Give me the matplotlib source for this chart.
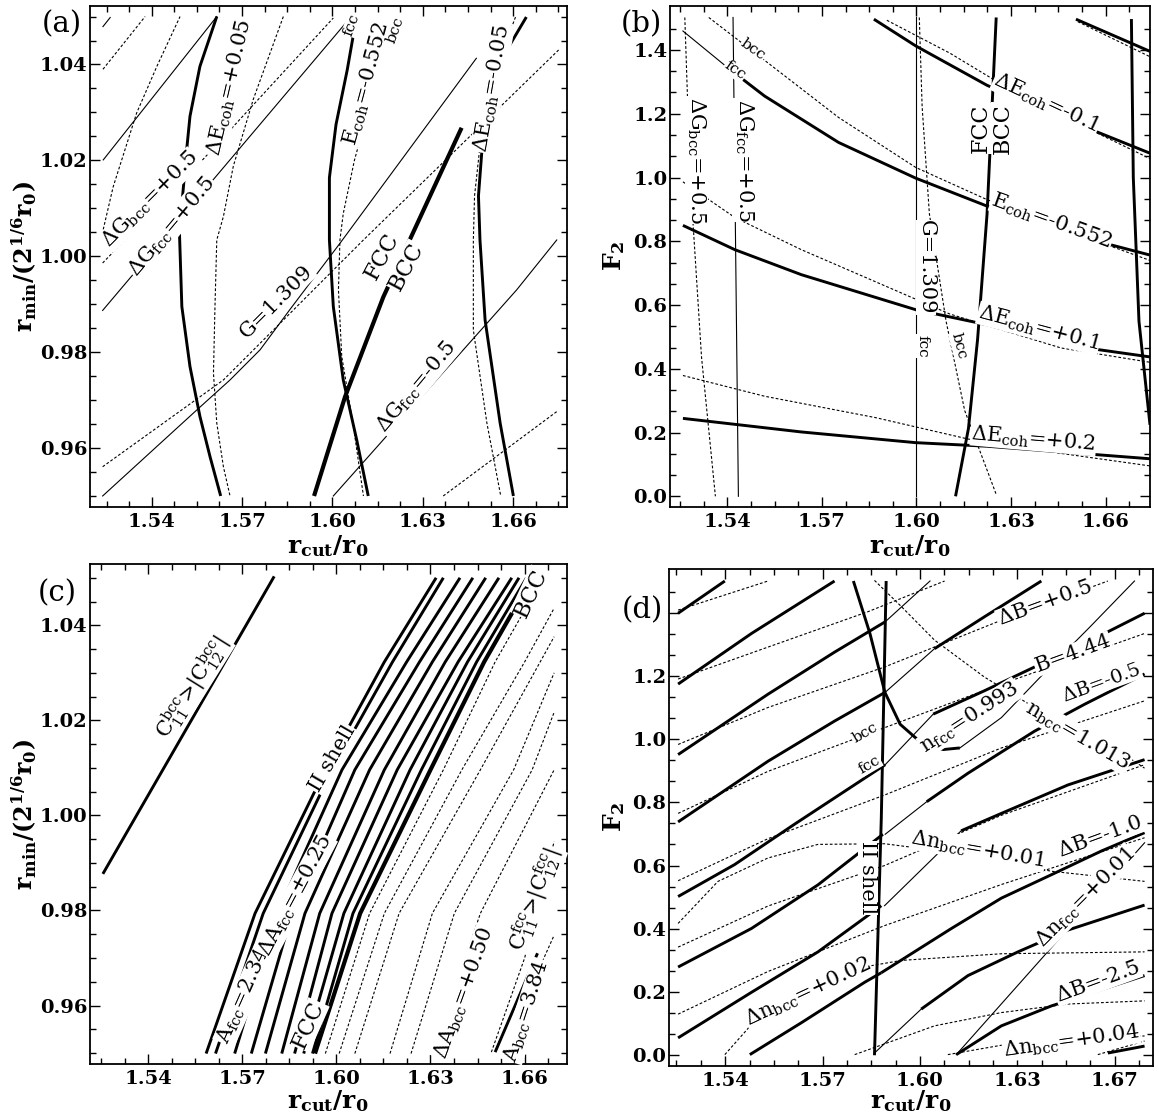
import numpy as np
import matplotlib
matplotlib.use("Agg")
import matplotlib.pyplot as plt
from matplotlib.ticker import FixedLocator

plt.rcParams['font.family'] = ['DejaVu Serif']
plt.rcParams['mathtext.fontset'] = 'dejavuserif'

# ---------------- panel (a): r_min vs r_cut ----------------
a_dE005_fcc_x = [1.5616, 1.5560, 1.5527, 1.5516, 1.5492, 1.5500, 1.5527, 1.5560, 1.5594, 1.5629]
a_dE005_fcc_y = [1.0500, 1.0396, 1.0292, 1.0222, 1.0050, 0.9895, 0.9770, 0.9666, 0.9581, 0.9500]
a_dE005_bcc_x = [1.5837, 1.5737, 1.5671, 1.5638, 1.5616, 1.5610, 1.5605, 1.5616, 1.5638, 1.5660]
a_dE005_bcc_y = [1.0500, 1.0327, 1.0188, 1.0083, 1.0034, 0.9895, 0.9756, 0.9652, 0.9561, 0.9500]
a_Ecoh_fcc_x = [1.6080, 1.6049, 1.6012, 1.5990, 1.5990, 1.6003, 1.6036, 1.6081, 1.6119]
a_Ecoh_fcc_y = [1.0499, 1.0388, 1.0275, 1.0164, 1.0034, 0.9895, 0.9742, 0.9616, 0.9500]
a_Ecoh_bcc_x = [1.6215, 1.6171, 1.6122, 1.6073, 1.6036, 1.6025, 1.6020, 1.6031, 1.6070, 1.6103]
a_Ecoh_bcc_y = [1.0499, 1.0439, 1.0312, 1.0200, 1.0089, 1.0034, 0.9930, 0.9791, 0.9644, 0.9500]
a_phase_x = [1.5939, 1.6042, 1.6169, 1.6429]
a_phase_y = [0.9500, 0.9707, 0.9915, 1.0268]
a_dEm005_fcc_x = [1.6644, 1.6546, 1.6503, 1.6485, 1.6490, 1.6507, 1.6557, 1.6601]
a_dEm005_fcc_y = [1.0499, 1.0395, 1.0275, 1.0126, 1.0034, 0.9867, 0.9652, 0.9500]
a_dEm005_bcc_x = [1.6608, 1.6546, 1.6495, 1.6472, 1.6468, 1.6468, 1.6513, 1.6559]
a_dEm005_bcc_y = [1.0499, 1.0395, 1.0259, 1.0126, 1.0034, 0.9846, 0.9652, 0.9500]
a_G1_fcc_x = [1.5238, 1.5262]
a_G1_fcc_y = [1.0479, 1.0498]
a_G1_bcc_x = [1.5238, 1.5378]
a_G1_bcc_y = [1.0390, 1.0500]
a_G2_bcc_x = [1.5239, 1.5272, 1.5350, 1.5417, 1.5494]
a_G2_bcc_y = [1.0056, 1.0145, 1.0299, 1.0396, 1.0500]
a_dGbcc_x = [1.5237, 1.5560, 1.6003]
a_dGbcc_y = [0.9986, 1.0195, 1.0497]
a_G2_fcc_x = [1.5239, 1.5616]
a_G2_fcc_y = [1.0201, 1.0500]
a_dGfcc_x = [1.5237, 1.6061]
a_dGfcc_y = [0.9887, 1.0499]
a_G_fcc_x = [1.5237, 1.5549, 1.5660, 1.5760, 1.5859, 1.6025, 1.6478]
a_G_fcc_y = [0.9500, 0.9679, 0.9742, 0.9805, 0.9889, 1.0027, 1.0413]
a_G_bcc_x = [1.5237, 1.5638, 1.6103, 1.6754]
a_G_bcc_y = [0.9561, 0.9742, 1.0034, 1.0432]
a_dGfcc_m_x = [1.6003, 1.6612, 1.6745]
a_dGfcc_m_y = [0.9500, 0.9930, 1.0034]
a_dGbcc_m_x = [1.6368, 1.6745]
a_dGbcc_m_y = [0.9500, 0.9676]

# ---------------- panel (b): F2 vs r_cut ----------------
b_G_fcc_x = [1.5998, 1.5998]
b_G_fcc_y = [1.502, 0.0]
b_dGfcc_x = [1.5418, 1.5435]
b_dGfcc_y = [1.502, 0.0]
b_dGbcc_x = [1.5265, 1.5282, 1.5318, 1.5362]
b_dGbcc_y = [1.502, 0.998, 0.437, 0.0]
b_G_bcc_x = [1.6009, 1.6018, 1.6041, 1.6094, 1.6153, 1.6253]
b_G_bcc_y = [1.502, 1.222, 0.886, 0.549, 0.269, 0.006]
b_phase_x = [1.6253, 1.6224, 1.6194, 1.6165, 1.6124]
b_phase_y = [1.502, 0.886, 0.493, 0.213, 0.0]
b_right_x = [1.6682, 1.6688, 1.6706, 1.6741]
b_right_y = [1.497, 1.0, 0.549, 0.224]
b_Ecoh_tip_x = [1.5259, 1.5400]
b_Ecoh_tip_y = [1.4596, 1.3453]
b_Ecoh_fcc_x = [1.5400, 1.5518, 1.5753, 1.5998, 1.6224, 1.6459, 1.6741]
b_Ecoh_fcc_y = [1.3453, 1.2556, 1.1099, 0.9978, 0.9103, 0.8296, 0.7567]
b_Ecoh_bcc_x = [1.5341, 1.5518, 1.5753, 1.5998, 1.6224, 1.6459, 1.6741]
b_Ecoh_bcc_y = [1.502, 1.3677, 1.1883, 1.0314, 0.9305, 0.8408, 0.7399]
b_dEm01_fcc_x = [1.5865, 1.5998, 1.6224, 1.6459, 1.6741]
b_dEm01_fcc_y = [1.4966, 1.4126, 1.2892, 1.1883, 1.0762]
b_dEm01_bcc_x = [1.5906, 1.6106, 1.6341, 1.6741]
b_dEm01_bcc_y = [1.4933, 1.3901, 1.2500, 1.0594]
b_dEm02_fcc_x = [1.6506, 1.6741]
b_dEm02_fcc_y = [1.4966, 1.3957]
b_dEm02_bcc_x = [1.6512, 1.6741]
b_dEm02_bcc_y = [1.4888, 1.3789]
b_dE01_fcc_x = [1.5259, 1.5424, 1.5635, 1.5998, 1.6224, 1.6459, 1.6741]
b_dE01_fcc_y = [0.8498, 0.7735, 0.6951, 0.5852, 0.5381, 0.4765, 0.4372]
b_dE01_bcc_x = [1.5259, 1.5424, 1.5635, 1.5871, 1.6106, 1.6459, 1.6741]
b_dE01_bcc_y = [0.9865, 0.8744, 0.7735, 0.6726, 0.5717, 0.4652, 0.4204]
b_dE02_fcc_x = [1.5259, 1.5635, 1.5998, 1.6224, 1.6741]
b_dE02_fcc_y = [0.2444, 0.2018, 0.1682, 0.1570, 0.1177]
b_dE02_bcc_x = [1.5259, 1.5518, 1.5871, 1.6165, 1.6459, 1.6741]
b_dE02_bcc_y = [0.3789, 0.3139, 0.2466, 0.1794, 0.1345, 0.0953]

# ---------------- panel (c): r_min vs r_cut, elastic constants ----------------
c_C11bcc_x = [1.5256, 1.5802]
c_C11bcc_y = [0.9877, 1.0503]
c_levels_y = [0.9499, 0.9794, 1.0096, 1.0323, 1.0500]
c_A1_x = [1.5585, 1.5741, 1.5965, 1.6153, 1.6318]
c_A2_x = [1.5615, 1.5767, 1.5986, 1.6179, 1.6341]
c_A3_x = [1.5676, 1.5812, 1.6018, 1.6224, 1.6394]
c_A4_x = [1.5729, 1.5859, 1.6059, 1.6265, 1.6435]
c_A5_x = [1.5774, 1.5900, 1.6106, 1.6306, 1.6476]
c_A6_x = [1.5826, 1.5947, 1.6153, 1.6347, 1.6518]
c_A7_x = [1.5867, 1.5986, 1.6194, 1.6388, 1.6559]
c_A8_x = [1.5896, 1.6024, 1.6235, 1.6418, 1.6582]
c_A9_x = [1.5924, 1.6053, 1.6271, 1.6447, 1.6606]
c_phase_x = [1.5932, 1.6076, 1.6300, 1.6471, 1.6624]
c_B1_x = [1.5965, 1.6106, 1.6341, 1.6506, 1.6659]
c_B1_y = [0.9499, 0.9794, 1.0096, 1.0323, 1.0500]
c_B2_x = [1.6009, 1.6153, 1.6400, 1.6600, 1.6694]
c_B2_y = [0.9499, 0.9794, 1.0096, 1.0323, 1.0436]
c_B3_x = [1.6059, 1.6200, 1.6459, 1.6694]
c_B3_y = [0.9499, 0.9794, 1.0096, 1.0376]
c_B4_x = [1.6171, 1.6306, 1.6565, 1.6694]
c_B4_y = [0.9499, 0.9794, 1.0096, 1.0300]
c_B5_x = [1.6238, 1.6376, 1.6624, 1.6694]
c_B5_y = [0.9499, 0.9794, 1.0096, 1.0217]
c_B6_x = [1.6308, 1.6459, 1.6694]
c_B6_y = [0.9499, 0.9794, 1.0096]
c_B7_x = [1.6494, 1.6600, 1.6694]
c_B7_y = [0.9502, 0.9700, 0.9945]
c_B8_x = [1.6576, 1.6694]
c_B8_y = [0.9574, 0.9748]
c_C11fcc_x = [1.6506, 1.6641]
c_C11fcc_y = [0.9502, 0.9710]

# ---------------- panel (d): F2 vs r_cut, bulk modulus / density ----------------
d_shell_x = [1.5946, 1.5931, 1.5910]
d_shell_y = [1.500, 0.750, 0.000]
d_B1_x = [1.5305, 1.5449]
d_B1_y = [1.398, 1.500]
d_B2_x = [1.5305, 1.5531, 1.5787]
d_B2_y = [1.174, 1.334, 1.500]
d_B3_x = [1.5305, 1.5582, 1.5787, 1.5943]
d_B3_y = [0.951, 1.142, 1.275, 1.371]
d_B4_x = [1.5305, 1.5582, 1.5787, 1.5943]
d_B4_y = [0.738, 0.930, 1.057, 1.148]
d_B5_x = [1.5305, 1.5479, 1.5664, 1.5943]
d_B5_y = [0.502, 0.603, 0.731, 0.919]
d_B6_x = [1.5305, 1.5531, 1.5736, 1.5936]
d_B6_y = [0.279, 0.401, 0.539, 0.699]
d_B7_x = [1.5305, 1.5531, 1.5736, 1.5931]
d_B7_y = [0.055, 0.199, 0.327, 0.473]
d_B8_x = [1.5526, 1.5685, 1.5880, 1.5931]
d_B8_y = [0.002, 0.103, 0.231, 0.261]
d_link3_x = [1.5943, 1.6081]
d_link3_y = [1.371, 1.500]
d_link4_x = [1.5943, 1.6095]
d_link4_y = [1.148, 1.286]
d_link5_x = [1.5943, 1.6091]
d_link5_y = [0.919, 1.079]
d_link6_x = [1.5943, 1.6071]
d_link6_y = [0.699, 0.802]
d_link7_x = [1.5941, 1.6177]
d_link7_y = [0.473, 0.710]
d_link9_x = [1.5910, 1.6054]
d_link9_y = [0.007, 0.146]
d_R1_x = [1.6095, 1.6249, 1.6424]
d_R1_y = [1.286, 1.387, 1.500]
d_R2_x = [1.6091, 1.6249, 1.6403, 1.6578, 1.6742]
d_R2_y = [1.079, 1.153, 1.228, 1.313, 1.398]
d_R3_x = [1.6071, 1.6198, 1.6403, 1.6557, 1.6742]
d_R3_y = [0.802, 0.892, 1.025, 1.110, 1.206]
d_R4_x = [1.6177, 1.6301, 1.6506, 1.6742]
d_R4_y = [0.710, 0.765, 0.855, 0.935]
d_R5_x = [1.5931, 1.6147, 1.6301, 1.6455, 1.6609, 1.6742]
d_R5_y = [0.261, 0.401, 0.497, 0.571, 0.646, 0.704]
d_R6_x = [1.6054, 1.6198, 1.6352, 1.6506, 1.6742]
d_R6_y = [0.146, 0.252, 0.327, 0.396, 0.475]
d_R7_x = [1.6162, 1.6301, 1.6455, 1.6742]
d_R7_y = [0.002, 0.093, 0.156, 0.252]
d_R8_x = [1.6629, 1.6742]
d_R8_y = [0.007, 0.029]
d_loop_thick_x = [1.5845, 1.5896, 1.5942, 1.5989, 1.6060, 1.6122, 1.6173]
d_loop_thick_y = [1.500, 1.334, 1.148, 1.047, 0.983, 0.967, 0.972]
d_loop_thin_x = [1.6173, 1.6301, 1.6430, 1.6574, 1.6711]
d_loop_thin_y = [0.972, 1.068, 1.206, 1.355, 1.500]
d_nfcc_x = [1.6162, 1.6742]
d_nfcc_y = [0.002, 0.672]
d_nbcc_x = [1.5910, 1.5993, 1.6095, 1.6249, 1.6403, 1.6557, 1.6742]
d_nbcc_y = [1.502, 1.419, 1.313, 1.196, 1.100, 1.036, 0.908]
d_D1_x = [1.5305, 1.5582]
d_D1_y = [1.408, 1.500]
d_D2_x = [1.5305, 1.5582, 1.5890, 1.6126]
d_D2_y = [1.190, 1.291, 1.403, 1.500]
d_D3_x = [1.5305, 1.5582, 1.5941, 1.6301, 1.6629]
d_D3_y = [0.983, 1.100, 1.228, 1.376, 1.500]
d_D4_x = [1.5305, 1.5582, 1.5941, 1.6301, 1.6742]
d_D4_y = [0.765, 0.898, 1.036, 1.174, 1.334]
d_D5_x = [1.5305, 1.5582, 1.5941, 1.6301, 1.6742]
d_D5_y = [0.552, 0.685, 0.823, 0.972, 1.121]
d_D6_x = [1.5305, 1.5582, 1.5941, 1.6301, 1.6742]
d_D6_y = [0.342, 0.472, 0.600, 0.759, 0.919]
d_D7_x = [1.5305, 1.5582, 1.5941, 1.6301, 1.6742]
d_D7_y = [0.130, 0.265, 0.410, 0.540, 0.688]
d_D8_x = [1.6136, 1.6403, 1.6742]
d_D8_y = [0.002, 0.050, 0.061]
d_dn1_x = [1.5305, 1.5428, 1.5582, 1.5736, 1.5941, 1.6198, 1.6455, 1.6742]
d_dn1_y = [0.417, 0.550, 0.624, 0.667, 0.669, 0.635, 0.582, 0.550]
d_dn2_x = [1.5449, 1.5582, 1.5787, 1.5993, 1.6301, 1.6742]
d_dn2_y = [0.002, 0.156, 0.263, 0.300, 0.321, 0.327]
d_dn4_x = [1.5849, 1.6095, 1.6301, 1.6506, 1.6742]
d_dn4_y = [0.002, 0.093, 0.135, 0.162, 0.172]
d_dn5_x = [1.6598, 1.6742]
d_dn5_y = [0.002, 0.045]

W, H = 1159, 1114
fig = plt.figure(figsize=(W / 100, H / 100), dpi=100)


def box(l, t, r, b):
    return [l / W, 1 - b / H, (r - l) / W, (b - t) / H]


ax_a = fig.add_axes(box(90, 6, 567, 507))
ax_b = fig.add_axes(box(670, 6, 1150, 507))
ax_c = fig.add_axes(box(90, 564, 567, 1064))
ax_d = fig.add_axes(box(669, 569, 1153, 1066))

STY = {
    'thick': dict(color='black', lw=2.1, ls='-', solid_capstyle='butt'),
    'heavy': dict(color='black', lw=3.0, ls='-', solid_capstyle='butt'),
    'thin': dict(color='black', lw=0.8, ls='-'),
    'dash': dict(color='black', lw=0.8, ls=(0, (2.5, 1.8))),
}


def draw(ax, xs, ys, kind):
    ax.plot(xs, ys, **STY[kind])


def lab(ax, x, y, s, rot, size=15):
    ax.text(x, y, s, rotation=rot, rotation_mode='anchor', ha='center', va='center',
            fontsize=size, bbox=dict(fc='white', ec='none', pad=0.4), zorder=5)


def frame(ax, xlim, ylim, xt, xtl, yt, ytl, xminor, yminor):
    ax.set_xlim(xlim)
    ax.set_ylim(ylim)
    ax.set_xticks(xt)
    ax.set_xticklabels(xtl, fontweight='bold', fontsize=14)
    ax.set_yticks(yt)
    ax.set_yticklabels(ytl, fontweight='bold', fontsize=14)
    ax.xaxis.set_minor_locator(FixedLocator(xminor))
    ax.yaxis.set_minor_locator(FixedLocator(yminor))
    ax.tick_params(which='both', direction='in', top=True, right=True, width=1)
    ax.tick_params(which='major', length=7, pad=4)
    ax.tick_params(axis='y', which='major', pad=2)
    ax.tick_params(which='minor', length=4)
    for s in ax.spines.values():
        s.set_linewidth(1.3)


xt_a = [1.54, 1.57, 1.60, 1.63, 1.66]
xtl_a = ['1.54', '1.57', '1.60', '1.63', '1.66']
yt_a = [0.96, 0.98, 1.00, 1.02, 1.04]
ytl_a = ['0.96', '0.98', '1.00', '1.02', '1.04']
yt_b = [0.0, 0.2, 0.4, 0.6, 0.8, 1.0, 1.2, 1.4]
ytl_b = ['0.0', '0.2', '0.4', '0.6', '0.8', '1.0', '1.2', '1.4']
ytl_d = ['0.0', '0.2', '0.4', '0.6', '0.8', '1.0', '1.2', '']
xt_d = [1.545, 1.575, 1.605, 1.635, 1.665]
xtl_d = ['1.54', '1.57', '1.60', '1.63', '1.67']
xminor = np.arange(1.525, 1.676, 0.0075)
xminor_d = np.arange(1.530, 1.676, 0.0075)
yminor_a = np.arange(0.95, 1.051, 0.005)
yminor_b = np.arange(0.0, 1.51, 0.2 / 3)

frame(ax_a, (1.5195, 1.6779), (0.9477, 1.0522), xt_a, xtl_a, yt_a, ytl_a, xminor, yminor_a)
frame(ax_b, (1.5218, 1.6741), (-0.0336, 1.538), xt_a, xtl_a, yt_b, ytl_b, xminor, yminor_b)
frame(ax_c, (1.5215, 1.6735), (0.9477, 1.0529), xt_a, xtl_a, yt_a, ytl_a, xminor, yminor_a)
frame(ax_d, (1.5277, 1.6768), (-0.034, 1.538), xt_d, xtl_d, yt_b, ytl_d, xminor_d, yminor_b)

# ---- (a)
draw(ax_a, a_dE005_fcc_x, a_dE005_fcc_y, 'thick')
draw(ax_a, a_dE005_bcc_x, a_dE005_bcc_y, 'dash')
draw(ax_a, a_Ecoh_fcc_x, a_Ecoh_fcc_y, 'thick')
draw(ax_a, a_Ecoh_bcc_x, a_Ecoh_bcc_y, 'dash')
draw(ax_a, a_phase_x, a_phase_y, 'heavy')
draw(ax_a, a_dEm005_fcc_x, a_dEm005_fcc_y, 'thick')
draw(ax_a, a_dEm005_bcc_x, a_dEm005_bcc_y, 'dash')
draw(ax_a, a_G1_fcc_x, a_G1_fcc_y, 'thin')
draw(ax_a, a_G1_bcc_x, a_G1_bcc_y, 'dash')
draw(ax_a, a_G2_bcc_x, a_G2_bcc_y, 'dash')
draw(ax_a, a_dGbcc_x, a_dGbcc_y, 'dash')
draw(ax_a, a_G2_fcc_x, a_G2_fcc_y, 'thin')
draw(ax_a, a_dGfcc_x, a_dGfcc_y, 'thin')
draw(ax_a, a_G_fcc_x, a_G_fcc_y, 'thin')
draw(ax_a, a_G_bcc_x, a_G_bcc_y, 'dash')
draw(ax_a, a_dGfcc_m_x, a_dGfcc_m_y, 'thin')
draw(ax_a, a_dGbcc_m_x, a_dGbcc_m_y, 'dash')

lab(ax_a, 1.5658, 1.0352, r'$\Delta\mathrm{E}_{\mathrm{coh}}$=+0.05', 77)
lab(ax_a, 1.5395, 1.0118, r'$\Delta\mathrm{G}_{\mathrm{bcc}}$=+0.5', 45)
lab(ax_a, 1.5466, 1.0062, r'$\Delta\mathrm{G}_{\mathrm{fcc}}$=+0.5', 50)
lab(ax_a, 1.5815, 0.9905, 'G=1.309', 45)
lab(ax_a, 1.6165, 1.0000, 'FCC', 62, 16)
lab(ax_a, 1.6245, 0.9978, 'BCC', 62, 16)
lab(ax_a, 1.6112, 1.0360, r'$\mathrm{E}_{\mathrm{coh}}$=-0.552', 75)
lab(ax_a, 1.6065, 1.0483, 'fcc', 70, 11)
lab(ax_a, 1.6208, 1.0472, 'bcc', 70, 11)
lab(ax_a, 1.6530, 1.0350, r'$\Delta\mathrm{E}_{\mathrm{coh}}$=-0.05', 80)
lab(ax_a, 1.6278, 0.9728, r'$\Delta\mathrm{G}_{\mathrm{fcc}}$=-0.5', 50)

# ---- (b)
draw(ax_b, b_G_fcc_x, b_G_fcc_y, 'thin')
draw(ax_b, b_dGfcc_x, b_dGfcc_y, 'thin')
draw(ax_b, b_dGbcc_x, b_dGbcc_y, 'dash')
draw(ax_b, b_G_bcc_x, b_G_bcc_y, 'dash')
draw(ax_b, b_phase_x, b_phase_y, 'thick')
draw(ax_b, b_right_x, b_right_y, 'thick')
draw(ax_b, b_Ecoh_tip_x, b_Ecoh_tip_y, 'thin')
draw(ax_b, b_Ecoh_fcc_x, b_Ecoh_fcc_y, 'thick')
draw(ax_b, b_Ecoh_bcc_x, b_Ecoh_bcc_y, 'dash')
draw(ax_b, b_dEm01_fcc_x, b_dEm01_fcc_y, 'thick')
draw(ax_b, b_dEm01_bcc_x, b_dEm01_bcc_y, 'dash')
draw(ax_b, b_dEm02_fcc_x, b_dEm02_fcc_y, 'thick')
draw(ax_b, b_dEm02_bcc_x, b_dEm02_bcc_y, 'dash')
draw(ax_b, b_dE01_fcc_x, b_dE01_fcc_y, 'thick')
draw(ax_b, b_dE01_bcc_x, b_dE01_bcc_y, 'dash')
draw(ax_b, b_dE02_fcc_x, b_dE02_fcc_y, 'thick')
draw(ax_b, b_dE02_bcc_x, b_dE02_bcc_y, 'dash')

lab(ax_b, 1.5302, 1.0538, r'$\Delta\mathrm{G}_{\mathrm{bcc}}$=+0.5', -90)
lab(ax_b, 1.5452, 1.0538, r'$\Delta\mathrm{G}_{\mathrm{fcc}}$=+0.5', -90)
lab(ax_b, 1.5424, 1.3353, 'fcc', -35, 11)
lab(ax_b, 1.5482, 1.4013, 'bcc', -35, 11)
lab(ax_b, 1.6031, 0.7175, 'G=1.309', -90)
lab(ax_b, 1.6020, 0.4709, 'fcc', -90, 11)
lab(ax_b, 1.6135, 0.4709, 'bcc', -75, 11)
lab(ax_b, 1.6204, 1.1547, 'FCC', 90, 16)
lab(ax_b, 1.6273, 1.1547, 'BCC', 90, 16)
lab(ax_b, 1.6412, 1.2332, r'$\Delta\mathrm{E}_{\mathrm{coh}}$=-0.1', -25)
lab(ax_b, 1.6429, 0.8632, r'$\mathrm{E}_{\mathrm{coh}}$=-0.552', -20)
lab(ax_b, 1.6388, 0.5269, r'$\Delta\mathrm{E}_{\mathrm{coh}}$=+0.1', -15)
lab(ax_b, 1.6371, 0.1794, r'$\Delta\mathrm{E}_{\mathrm{coh}}$=+0.2', -5)

# ---- (c)
draw(ax_c, c_C11bcc_x, c_C11bcc_y, 'thick')
for cx in [c_A1_x, c_A2_x, c_A3_x, c_A4_x, c_A5_x, c_A6_x, c_A7_x, c_A8_x, c_A9_x]:
    draw(ax_c, cx, c_levels_y, 'thick')
draw(ax_c, c_phase_x, c_levels_y, 'heavy')
for bx, by in [(c_B1_x, c_B1_y), (c_B2_x, c_B2_y), (c_B3_x, c_B3_y), (c_B4_x, c_B4_y),
               (c_B5_x, c_B5_y), (c_B6_x, c_B6_y), (c_B7_x, c_B7_y), (c_B8_x, c_B8_y)]:
    draw(ax_c, bx, by, 'dash')
draw(ax_c, c_C11fcc_x, c_C11fcc_y, 'thick')

lab(ax_c, 1.5541, 1.0270, r'$\mathrm{C}^{\mathrm{bcc}}_{11}$>|$\mathrm{C}^{\mathrm{bcc}}_{12}$|', 58)
lab(ax_c, 1.5706, 0.9620, r'A$_{\mathrm{fcc}}$=2.34', 66)
lab(ax_c, 1.5871, 0.9831, r'$\Delta$A$_{\mathrm{fcc}}$=$\pm$0.25', 62)
lab(ax_c, 1.5988, 1.0119, 'II shell', 60)
lab(ax_c, 1.5912, 0.9559, 'FCC', 66, 16)
lab(ax_c, 1.6620, 1.0468, 'BCC', 65, 16)
lab(ax_c, 1.6406, 0.9627, r'$\Delta$A$_{\mathrm{bcc}}$=+0.50', 70)
lab(ax_c, 1.6635, 0.9824, r'$\mathrm{C}^{\mathrm{fcc}}_{11}$>|$\mathrm{C}^{\mathrm{fcc}}_{12}$|', 70)
lab(ax_c, 1.6608, 0.9589, r'A$_{\mathrm{bcc}}$=3.84', 72)

# ---- (d)
for xs, ys in [(d_B1_x, d_B1_y), (d_B2_x, d_B2_y), (d_B3_x, d_B3_y), (d_B4_x, d_B4_y),
               (d_B5_x, d_B5_y), (d_B6_x, d_B6_y), (d_B7_x, d_B7_y), (d_B8_x, d_B8_y),
               (d_R1_x, d_R1_y), (d_R2_x, d_R2_y), (d_R3_x, d_R3_y), (d_R4_x, d_R4_y),
               (d_R5_x, d_R5_y), (d_R6_x, d_R6_y), (d_R7_x, d_R7_y), (d_R8_x, d_R8_y),
               (d_loop_thick_x, d_loop_thick_y), (d_shell_x, d_shell_y)]:
    draw(ax_d, xs, ys, 'thick')
for xs, ys in [(d_link3_x, d_link3_y), (d_link4_x, d_link4_y), (d_link5_x, d_link5_y),
               (d_link6_x, d_link6_y), (d_link7_x, d_link7_y), (d_link9_x, d_link9_y),
               (d_loop_thin_x, d_loop_thin_y), (d_nfcc_x, d_nfcc_y)]:
    draw(ax_d, xs, ys, 'thin')
for xs, ys in [(d_nbcc_x, d_nbcc_y), (d_D1_x, d_D1_y), (d_D2_x, d_D2_y), (d_D3_x, d_D3_y),
               (d_D4_x, d_D4_y), (d_D5_x, d_D5_y), (d_D6_x, d_D6_y), (d_D7_x, d_D7_y),
               (d_D8_x, d_D8_y), (d_dn1_x, d_dn1_y), (d_dn2_x, d_dn2_y), (d_dn4_x, d_dn4_y),
               (d_dn5_x, d_dn5_y)]:
    draw(ax_d, xs, ys, 'dash')

lab(ax_d, 1.6434, 1.430, r'$\Delta$B=+0.5', 20)
lab(ax_d, 1.6521, 1.270, 'B=4.44', 20)
lab(ax_d, 1.6608, 1.178, r'$\Delta$B=-0.5', 20, 14)
lab(ax_d, 1.6535, 1.010, r'n$_{\mathrm{bcc}}$=1.013', -30)
lab(ax_d, 1.6204, 1.068, r'n$_{\mathrm{fcc}}$=0.993', 33)
lab(ax_d, 1.5880, 1.020, 'bcc', 30, 11)
lab(ax_d, 1.5895, 0.919, 'fcc', 30, 11)
lab(ax_d, 1.5890, 0.561, 'II shell', -90)
lab(ax_d, 1.6229, 0.651, r'$\Delta$n$_{\mathrm{bcc}}$=+0.01', -10)
lab(ax_d, 1.6605, 0.690, r'$\Delta$B=-1.0', 20)
lab(ax_d, 1.6560, 0.500, r'$\Delta$n$_{\mathrm{fcc}}$=+0.01', 45)
lab(ax_d, 1.5705, 0.199, r'$\Delta$n$_{\mathrm{bcc}}$=+0.02', 25)
lab(ax_d, 1.6598, 0.231, r'$\Delta$B=-2.5', 20)
lab(ax_d, 1.6516, 0.045, r'$\Delta$n$_{\mathrm{bcc}}$=+0.04', 8)

# axis titles and panel tags
xlab = r'$\mathbf{r}_{\mathbf{cut}}\mathbf{/r}_{\mathbf{0}}$'
ylab_r = r'$\mathbf{r}_{\mathbf{min}}\mathbf{/(2}^{\mathbf{1/6}}\mathbf{r}_{\mathbf{0}}\mathbf{)}$'
ylab_f = r'$\mathbf{F}_{\mathbf{2}}$'
fig.text(328 / W, 1 - 546 / H, xlab, ha='center', va='center', fontsize=18)
fig.text(910 / W, 1 - 546 / H, xlab, ha='center', va='center', fontsize=18)
fig.text(328 / W, 1 - 1101 / H, xlab, ha='center', va='center', fontsize=18)
fig.text(911 / W, 1 - 1101 / H, xlab, ha='center', va='center', fontsize=18)
fig.text(24 / W, 1 - 256 / H, ylab_r, ha='center', va='center', rotation=90, fontsize=17)
fig.text(24 / W, 1 - 814 / H, ylab_r, ha='center', va='center', rotation=90, fontsize=17)
fig.text(614 / W, 1 - 256 / H, ylab_f, ha='center', va='center', rotation=90, fontsize=18)
fig.text(614 / W, 1 - 817 / H, ylab_f, ha='center', va='center', rotation=90, fontsize=18)
for tag, px, py in [('(a)', 62, 24), ('(b)', 641, 24), ('(c)', 57, 593), ('(d)', 642, 610)]:
    fig.text(px / W, 1 - py / H, tag, ha='center', va='center', fontsize=21)

fig.savefig('out.png', dpi=100)
